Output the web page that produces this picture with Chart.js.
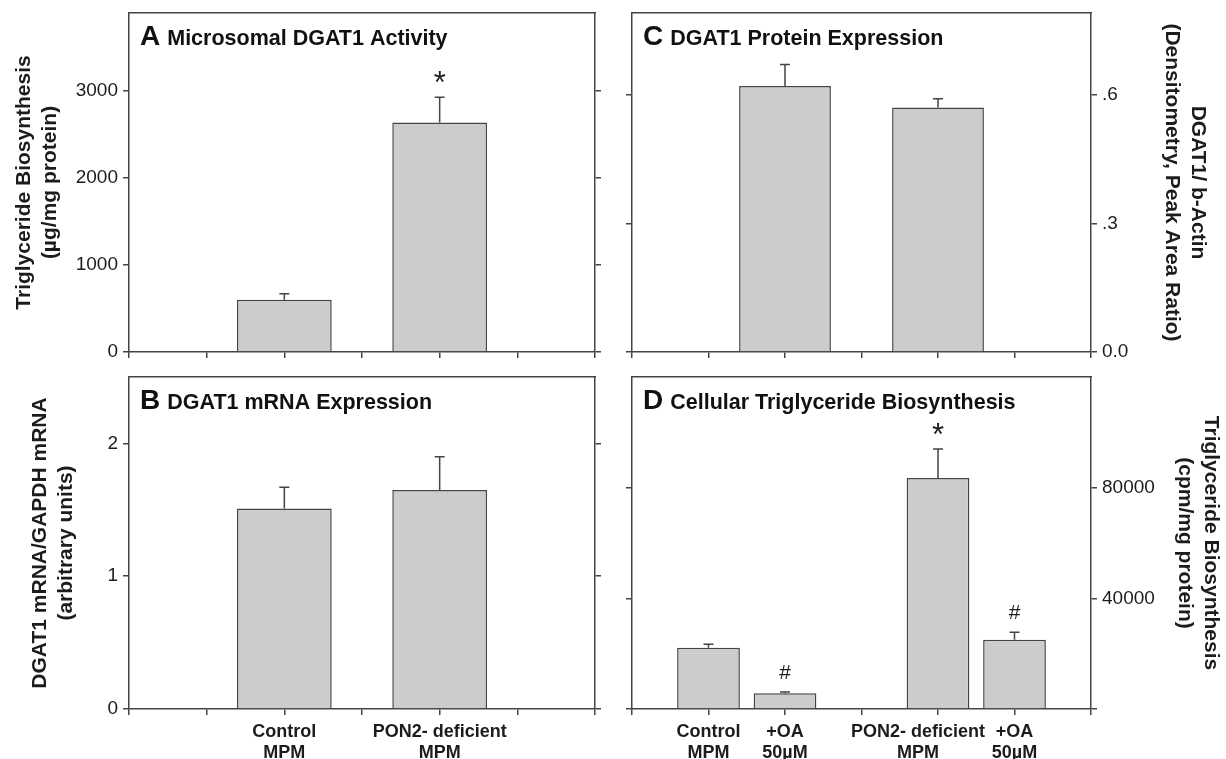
<!DOCTYPE html>
<html>
<head>
<meta charset="utf-8">
<title>DGAT1 panels</title>
<script src="https://cdn.jsdelivr.net/npm/chart.js@4.4.1/dist/chart.umd.min.js"></script>
<style>
  html, body { margin: 0; padding: 0; background: #fff; }
  #page { position: relative; width: 1226px; height: 759px; overflow: hidden; }
  .panel { position: absolute; }
  .panel canvas { display: block; }
</style>
</head>
<body>
<div id="page">
  <div class="panel" style="left:0;top:0;width:613px;height:370px"><canvas id="chartA"></canvas></div>
  <div class="panel" style="left:613px;top:0;width:613px;height:370px"><canvas id="chartC"></canvas></div>
  <div class="panel" style="left:0;top:370px;width:613px;height:389px"><canvas id="chartB"></canvas></div>
  <div class="panel" style="left:613px;top:370px;width:613px;height:389px"><canvas id="chartD"></canvas></div>
</div>
<script>
// category slots along the x axis (blank slots are empty tick positions)
const abSlots = ["", "", ["Control", "MPM"], "", ["PON2- deficient", "MPM"], "", ""];
const dSlots = ["", ["Control", "MPM"], ["+OA", "50µM"], "", ["PON2- deficient", "MPM"], ["+OA", "50µM"], ""];

// A - microsomal DGAT1 activity
const aValues = [null, null, 600, null, 2640, null, null];
const aErrors = [null, null, 70, null, 290, null, null];
const aMarks = ["", "", "", "", "*", "", ""];
const aTicks = [0, 1000, 2000, 3000];

// B - DGAT1 mRNA
const bValues = [null, null, 1.51, null, 1.65, null, null];
const bErrors = [null, null, 0.16, null, 0.25, null, null];
const bMarks = ["", "", "", "", "", "", ""];
const bTicks = [0, 1, 2];

// C - DGAT1 protein
const cValues = [null, null, 0.62, null, 0.57, null, null];
const cErrors = [null, null, 0.05, null, 0.02, null, null];
const cMarks = ["", "", "", "", "", "", ""];
const cTicks = [0, 0.3, 0.6];
const cTickLabels = ["0.0", ".3", ".6"];

// D - cellular triglyceride biosynthesis
const dValues = [null, 22100, 5650, null, 83500, 25000, null];
const dErrors = [null, 1300, 500, null, 10500, 2700, null];
const dMarks = ["", "", "#", "", "*", "#", ""];
const dTicks = [0, 40000, 80000];
const dTickLabels = ["", "40000", "80000"];

const axisColor = "#444444";
const inkColor = "#1c1c1c";
const barFill = "#cccccc";
const fontFamily = "'Liberation Sans', Arial, Helvetica, sans-serif";

Chart.defaults.font.family = fontFamily;
Chart.defaults.color = inkColor;

// error bars (upper half only) plus the significance marks above them
const errorBars = {
  id: "errorBars",
  afterDatasetsDraw(chart, args, opts) {
    const ctx = chart.ctx;
    const yScale = chart.scales.y;
    const values = chart.data.datasets[0].data;
    const meta = chart.getDatasetMeta(0);
    ctx.save();
    ctx.strokeStyle = axisColor;
    ctx.lineWidth = 1.5;
    meta.data.forEach((bar, i) => {
      if (values[i] == null) return;
      const top = yScale.getPixelForValue(values[i] + opts.errors[i]);
      ctx.beginPath();
      ctx.moveTo(bar.x, bar.y);
      ctx.lineTo(bar.x, top);
      ctx.moveTo(bar.x - 5, top);
      ctx.lineTo(bar.x + 5, top);
      ctx.stroke();

      const mark = opts.marks[i];
      if (mark) {
        ctx.font = (mark === "*" ? "31px " : "21px ") + fontFamily;
        ctx.fillStyle = inkColor;
        ctx.textAlign = "center";
        ctx.textBaseline = "alphabetic";
        const m = ctx.measureText(mark);
        const cy = top - 20;
        ctx.fillText(mark, bar.x, cy + (m.actualBoundingBoxAscent - m.actualBoundingBoxDescent) / 2);
      }
    });
    ctx.restore();
  },
};

// "A  Microsomal DGAT1 Activity" inside the plot frame
const panelTitle = {
  id: "panelTitle",
  afterDraw(chart, args, opts) {
    const { ctx, chartArea } = chart;
    const x = chartArea.left + 11;
    const y = chartArea.top + 32;
    ctx.save();
    ctx.fillStyle = "#111";
    ctx.textAlign = "left";
    ctx.textBaseline = "alphabetic";
    ctx.font = "bold 28px " + fontFamily;
    ctx.fillText(opts.letter, x, y);
    const w = ctx.measureText(opts.letter).width;
    ctx.font = "bold 21.5px " + fontFamily;
    ctx.fillText(opts.text, x + w + 7, y);
    ctx.restore();
  },
};

// moves single x labels sideways so crowded ones don't collide
const labelNudge = {
  id: "labelNudge",
  beforeDraw(chart, args, opts) {
    if (!opts.shifts) return;
    const items = chart.scales.x.getLabelItems();
    if (items._nudged) return;
    items._nudged = true;
    Object.keys(opts.shifts).forEach((i) => {
      if (items[i]) items[i].options.translation[0] += opts.shifts[i];
    });
  },
};

function noPadding(s) {
  s.paddingTop = 0;
  s.paddingBottom = 0;
  s.paddingLeft = 0;
  s.paddingRight = 0;
}

function yAxis(p, side) {
  const labelled = side === p.labelSide;
  return {
    type: "linear",
    position: side,
    min: 0,
    max: p.max,
    afterBuildTicks: (s) => {
      s.ticks = p.ticks.map((v) => ({ value: v }));
    },
    afterFit: (s) => {
      s.width = side === "left" ? p.leftWidth : p.rightWidth;
      noPadding(s);
    },
    grid: { drawOnChartArea: false, tickLength: 6, color: axisColor, lineWidth: 1.5 },
    border: { color: axisColor, width: 1.5 },
    ticks: {
      display: labelled,
      padding: 5,
      color: inkColor,
      font: { size: 19 },
      callback: (v, i) => (p.tickLabels ? p.tickLabels[i] : String(v)),
    },
    title: {
      display: labelled,
      text: p.yTitle,
      color: inkColor,
      font: { size: 21, weight: "bold", lineHeight: 1.25 },
      padding: { top: p.titlePad, bottom: 0 },
    },
  };
}

function panelConfig(p) {
  return {
    type: "bar",
    data: {
      labels: p.slots,
      datasets: [
        {
          data: p.values,
          backgroundColor: barFill,
          borderColor: axisColor,
          borderWidth: 1.5,
          categoryPercentage: 1,
          barPercentage: p.barPct,
        },
      ],
    },
    options: {
      responsive: true,
      maintainAspectRatio: false,
      animation: false,
      events: [],
      layout: { padding: { top: p.padTop, left: 0, right: 0, bottom: 0 } },
      plugins: {
        legend: { display: false },
        tooltip: { enabled: false },
        errorBars: { errors: p.errors, marks: p.marks },
        panelTitle: { letter: p.letter, text: p.title },
        labelNudge: { shifts: p.shifts },
      },
      scales: {
        x: {
          type: "category",
          offset: false,
          afterFit: (s) => {
            s.height = p.xHeight;
            noPadding(s);
          },
          grid: { offset: false, drawOnChartArea: false, tickLength: 6, color: axisColor, lineWidth: 1.5 },
          border: { color: axisColor, width: 1.5 },
          ticks: {
            display: p.showX,
            autoSkip: false,
            maxRotation: 0,
            minRotation: 0,
            padding: 7,
            color: inkColor,
            font: { size: 18, weight: "bold", lineHeight: 1.15 },
          },
        },
        xTop: {
          type: "category",
          axis: "x",
          position: "top",
          offset: false,
          afterFit: (s) => {
            s.height = 0;
            noPadding(s);
          },
          grid: { display: false, drawTicks: false },
          ticks: { display: false },
          border: { color: axisColor, width: 1.5 },
        },
        y: yAxis(p, "left"),
        y2: yAxis(p, "right"),
      },
    },
    plugins: [errorBars, panelTitle, labelNudge],
  };
}

document.addEventListener("DOMContentLoaded", function () {
  new Chart(
    "chartA",
    panelConfig({
      letter: "A", title: "Microsomal DGAT1 Activity",
      slots: abSlots, values: aValues, errors: aErrors, marks: aMarks,
      ticks: aTicks, max: 3900, labelSide: "left",
      yTitle: ["Triglyceride Biosynthesis", "(µg/mg protein)"], titlePad: 11,
      leftWidth: 129, rightWidth: 18, padTop: 13, xHeight: 18, showX: false, barPct: 1.22,
    })
  );

  new Chart(
    "chartC",
    panelConfig({
      letter: "C", title: "DGAT1 Protein Expression",
      slots: abSlots, values: cValues, errors: cErrors, marks: cMarks,
      ticks: cTicks, tickLabels: cTickLabels, max: 0.79, labelSide: "right",
      yTitle: ["DGAT1/ b-Actin", "(Densitometry, Peak Area Ratio)"], titlePad: 15,
      leftWidth: 19, rightWidth: 135, padTop: 13, xHeight: 18, showX: false, barPct: 1.2,
    })
  );

  new Chart(
    "chartB",
    panelConfig({
      letter: "B", title: "DGAT1 mRNA Expression",
      slots: abSlots, values: bValues, errors: bErrors, marks: bMarks,
      ticks: bTicks, max: 2.5, labelSide: "left",
      yTitle: ["DGAT1 mRNA/GAPDH mRNA", "(arbitrary units)"], titlePad: 27,
      leftWidth: 129, rightWidth: 18, padTop: 7, xHeight: 50, showX: true, barPct: 1.22,
    })
  );

  new Chart(
    "chartD",
    panelConfig({
      letter: "D", title: "Cellular Triglyceride Biosynthesis",
      slots: dSlots, values: dValues, errors: dErrors, marks: dMarks,
      ticks: dTicks, tickLabels: dTickLabels, max: 120000, labelSide: "right",
      yTitle: ["Triglyceride Biosynthesis", "(cpm/mg protein)"], titlePad: 2,
      leftWidth: 19, rightWidth: 135, padTop: 7, xHeight: 50, showX: true, barPct: 0.82,
      shifts: { 4: -20 },
    })
  );
});
</script>
</body>
</html>
